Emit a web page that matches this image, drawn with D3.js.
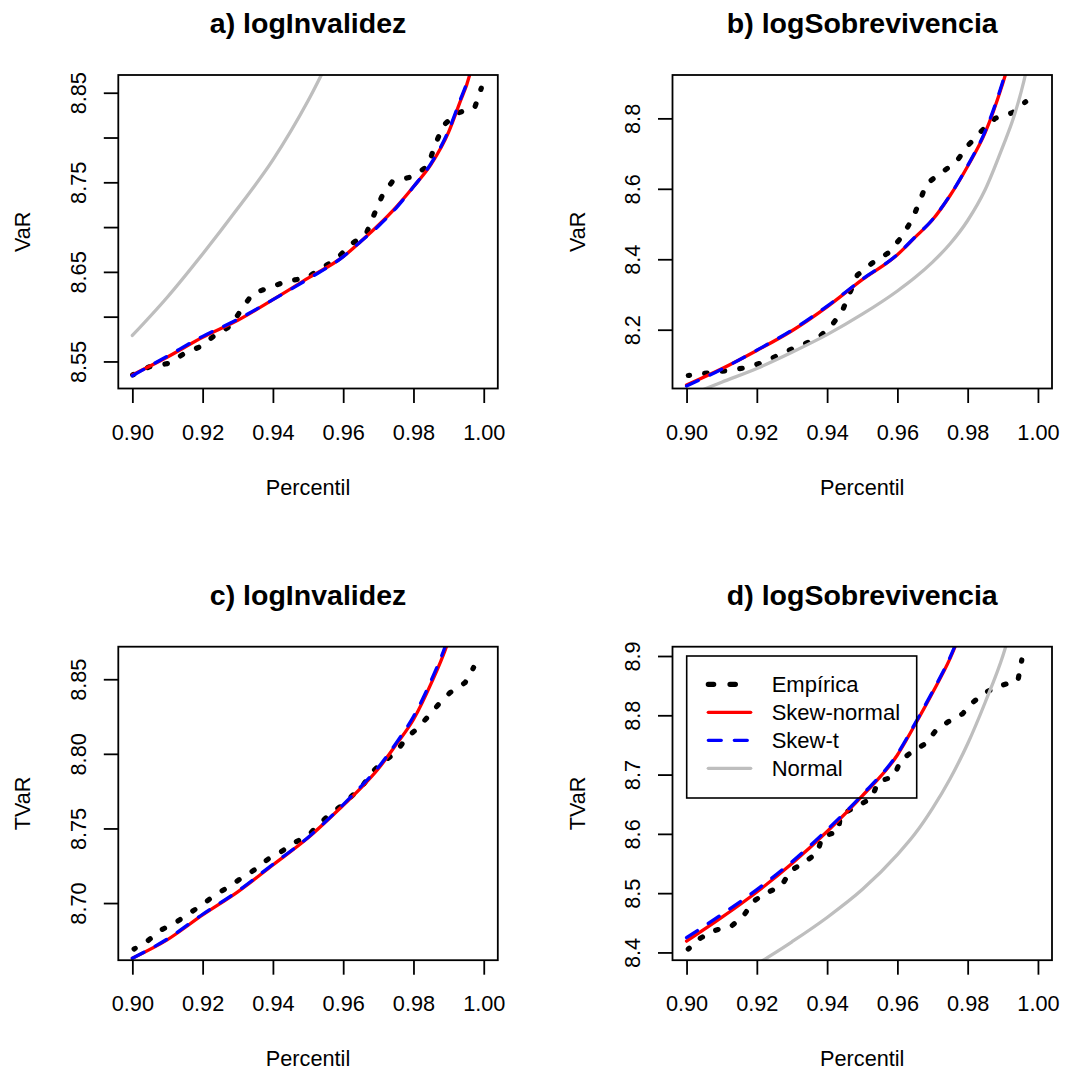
<!DOCTYPE html>
<html><head><meta charset="utf-8">
<script src="https://cdn.jsdelivr.net/npm/d3@7"></script>
<style>
body{margin:0;background:#fff}
text{font-family:"Liberation Sans",Arial,Helvetica,sans-serif;fill:#000}
</style>
</head><body>
<svg id="chart" width="1065" height="1075"></svg>
<script>
// ---------------- DATA ----------------
const titles = ["a) logInvalidez", "b) logSobrevivencia", "c) logInvalidez", "d) logSobrevivencia"];
const yTitles = ["VaR", "VaR", "TVaR", "TVaR"];
const xTitle = "Percentil";
const legendLabels = ["Empírica", "Skew-normal", "Skew-t", "Normal"];

const xTicks = [0.90, 0.92, 0.94, 0.96, 0.98, 1.00];
const xTickLabels = ["0.90", "0.92", "0.94", "0.96", "0.98", "1.00"];

const aYTicks = [8.55, 8.60, 8.65, 8.70, 8.75, 8.80, 8.85];
const aYTickLabels = ["8.55", "", "8.65", "", "8.75", "", "8.85"];
const bYTicks = [8.2, 8.4, 8.6, 8.8];
const bYTickLabels = ["8.2", "8.4", "8.6", "8.8"];
const cYTicks = [8.70, 8.75, 8.80, 8.85];
const cYTickLabels = ["8.70", "8.75", "8.80", "8.85"];
const dYTicks = [8.4, 8.5, 8.6, 8.7, 8.8, 8.9];
const dYTickLabels = ["8.4", "8.5", "8.6", "8.7", "8.8", "8.9"];

// percentiles at which the fitted curves are read
const percentiles = [0.90, 0.91, 0.92, 0.93, 0.94, 0.95, 0.96, 0.965, 0.97, 0.975, 0.98, 0.985, 0.99, 0.993, 0.996, 0.999];

// a) VaR logInvalidez
const aSkewNormal = [8.535, 8.555, 8.577, 8.596, 8.619, 8.643, 8.667, 8.684, 8.702, 8.722, 8.745, 8.770, 8.806, 8.837, 8.870, 8.930];
const aSkewT      = [8.534, 8.556, 8.578, 8.597, 8.619, 8.642, 8.667, 8.684, 8.701, 8.721, 8.745, 8.771, 8.808, 8.839, 8.873, 8.940];
const aNormal     = [8.579, 8.622, 8.670, 8.721, 8.775, 8.841, 8.920, null, null, null, null, null, null, null, null, null];
const aEmpP = [0.9001, 0.9048, 0.9105, 0.9148, 0.9196, 0.9234, 0.9281, 0.9310, 0.9343, 0.9395, 0.9442, 0.9495, 0.9538, 0.9580, 0.9623, 0.9666, 0.9689, 0.9711, 0.9740, 0.9794, 0.9841, 0.9860, 0.9884, 0.9922, 0.9974, 0.9993];
const aEmpV = [8.535, 8.544, 8.548, 8.559, 8.567, 8.579, 8.590, 8.608, 8.626, 8.633, 8.640, 8.643, 8.654, 8.664, 8.681, 8.693, 8.715, 8.735, 8.751, 8.756, 8.768, 8.790, 8.813, 8.827, 8.833, 8.855];

// b) VaR logSobrevivencia
const bSkewNormal = [8.043, 8.089, 8.141, 8.197, 8.265, 8.342, 8.413, 8.462, 8.512, 8.581, 8.664, 8.760, 8.900, 9.000, null, null];
const bSkewT      = [8.040, 8.088, 8.142, 8.199, 8.267, 8.343, 8.414, 8.463, 8.513, 8.582, 8.666, 8.764, 8.905, 9.010, null, null];
const bNormal     = [8.011, 8.051, 8.090, 8.136, 8.186, 8.244, 8.310, 8.348, 8.392, 8.444, 8.510, 8.598, 8.720, 8.800, 8.906, 9.050];
const bEmpP = [0.9005, 0.9059, 0.9116, 0.9168, 0.9220, 0.9270, 0.9318, 0.9372, 0.9410, 0.9443, 0.9486, 0.9528, 0.9574, 0.9612, 0.9642, 0.9663, 0.9682, 0.9723, 0.9766, 0.9799, 0.9837, 0.9878, 0.9927, 0.9965];
const bEmpV = [8.070, 8.077, 8.084, 8.092, 8.108, 8.132, 8.153, 8.175, 8.208, 8.253, 8.355, 8.389, 8.418, 8.463, 8.513, 8.563, 8.613, 8.645, 8.674, 8.721, 8.762, 8.800, 8.816, 8.847];

// c) TVaR logInvalidez
const cSkewNormal = [8.663, 8.6755, 8.692, 8.7075, 8.7255, 8.7437, 8.7655, 8.777, 8.790, 8.806, 8.823, 8.847, 8.876, 8.900, null, null];
const cSkewT      = [8.663, 8.676, 8.6925, 8.708, 8.726, 8.744, 8.766, 8.778, 8.791, 8.807, 8.825, 8.849, 8.879, 8.905, null, null];
const cEmpP = [0.9005, 0.9045, 0.9083, 0.9124, 0.9159, 0.9197, 0.9235, 0.9274, 0.9310, 0.9348, 0.9386, 0.9424, 0.9462, 0.9500, 0.9530, 0.9563, 0.9596, 0.9628, 0.9659, 0.9684, 0.9713, 0.9749, 0.9779, 0.9812, 0.9843, 0.9872, 0.9904, 0.9947, 0.9971];
const cEmpV = [8.6692, 8.6749, 8.6821, 8.6870, 8.6928, 8.6984, 8.7055, 8.7107, 8.7167, 8.7223, 8.7294, 8.7345, 8.7406, 8.7452, 8.7524, 8.7598, 8.7653, 8.7725, 8.7799, 8.7881, 8.7948, 8.8004, 8.8105, 8.8172, 8.8254, 8.8333, 8.8410, 8.8477, 8.8578];

// d) TVaR logSobrevivencia
const dSkewNormal = [8.419, 8.459, 8.502, 8.550, 8.604, 8.664, 8.733, 8.784, 8.838, 8.896, 8.970, null, null, null, null, null];
const dSkewT      = [8.425, 8.464, 8.506, 8.553, 8.607, 8.666, 8.735, 8.786, 8.840, 8.898, 8.972, null, null, null, null, null];
const dNormal     = [8.305, 8.342, 8.380, 8.418, 8.459, 8.506, 8.565, 8.600, 8.643, 8.693, 8.752, 8.822, 8.900, 8.960, null, null];
const dEmpP = [0.9005, 0.9040, 0.9081, 0.9130, 0.9163, 0.9189, 0.9227, 0.9270, 0.9296, 0.9331, 0.9372, 0.9386, 0.9432, 0.9438, 0.9483, 0.9527, 0.9545, 0.9590, 0.9609, 0.9642, 0.9682, 0.9709, 0.9745, 0.9785, 0.9815, 0.9851, 0.9894, 0.9943, 0.9954];
const dEmpV = [8.4057, 8.4243, 8.4371, 8.4455, 8.4624, 8.4859, 8.5001, 8.5124, 8.5377, 8.5506, 8.5675, 8.5955, 8.6039, 8.6320, 8.6460, 8.6602, 8.6882, 8.6966, 8.7236, 8.7387, 8.7529, 8.7741, 8.7893, 8.8023, 8.8220, 8.8388, 8.8500, 8.8584, 8.8933];

// ---------------- LAYOUT / STYLE ----------------
const boxW = 379.5, boxH = 313.5;
const panels = [
  {left: 118.3, top: 75,    yDomain: [8.5198, 8.8698], yTicks: aYTicks, yLabels: aYTickLabels, sn: aSkewNormal, st: aSkewT, nm: aNormal, ep: aEmpP, ev: aEmpV},
  {left: 672.5, top: 75,    yDomain: [8.0331, 8.9231], yTicks: bYTicks, yLabels: bYTickLabels, sn: bSkewNormal, st: bSkewT, nm: bNormal, ep: bEmpP, ev: bEmpV},
  {left: 118.3, top: 646.7, yDomain: [8.6617, 8.8718], yTicks: cYTicks, yLabels: cYTickLabels, sn: cSkewNormal, st: cSkewT, nm: null,    ep: cEmpP, ev: cEmpV},
  {left: 672.5, top: 646.7, yDomain: [8.3869, 8.9157], yTicks: dYTicks, yLabels: dYTickLabels, sn: dSkewNormal, st: dSkewT, nm: dNormal, ep: dEmpP, ev: dEmpV, legend: true}
];
const styles = {
  emp: {stroke: "#000000", width: 5.2, dash: null},
  empLegend: {stroke: "#000000", width: 5.2, dash: "5.4,16.3"},
  sn:  {stroke: "#FF0000", width: 3.3, dash: null},
  st:  {stroke: "#0000FF", width: 3.3, dash: "13,13"},
  nm:  {stroke: "#BEBEBE", width: 3.3, dash: null}
};
const empDot = 2.5, empPeriod = 17.5;
const tickFont = 21.7, titleFont = 28.5, tickLen = 14.5;

const svg = d3.select("#chart");
svg.append("rect").attr("width", 1065).attr("height", 1075).attr("fill", "#fff");

function styleLine(sel, s) {
  sel.attr("fill", "none").attr("stroke", s.stroke).attr("stroke-width", s.width)
     .attr("stroke-linecap", "round").attr("stroke-linejoin", "round");
  if (s.dash) sel.attr("stroke-dasharray", s.dash);
  return sel;
}

panels.forEach((P, i) => {
  const x = d3.scaleLinear().domain([0.896, 1.004]).range([P.left, P.left + boxW]);
  const y = d3.scaleLinear().domain(P.yDomain).range([P.top + boxH, P.top]);
  const g = svg.append("g");

  const clipId = "clip" + i;
  svg.append("defs").append("clipPath").attr("id", clipId)
    .append("rect").attr("x", P.left).attr("y", P.top).attr("width", boxW).attr("height", boxH);

  const lines = g.append("g").attr("clip-path", `url(#${clipId})`);
  const empLine = d3.line().x(d => x(d.p)).y(d => y(d.v));
  const fitLine = d3.line().defined(d => d.v != null).x(d => x(d.p)).y(d => y(d.v)).curve(d3.curveMonotoneX);

  const emp = P.ep.map((p, k) => ({p: p, v: P.ev[k]}));
  const ePath = styleLine(lines.append("path").attr("d", empLine(emp)), styles.emp);
  // dotted pattern fitted so that both ends of the path carry a dot
  const L = ePath.node().getTotalLength();
  const n = Math.max(1, Math.round(L / empPeriod));
  const per = L / n;
  ePath.attr("stroke-dasharray", `${empDot},${per - empDot}`).attr("stroke-dashoffset", empDot / 2);

  const sn = percentiles.map((p, k) => ({p: p, v: P.sn[k]}));
  styleLine(lines.append("path").attr("d", fitLine(sn)), styles.sn);
  const st = percentiles.map((p, k) => ({p: p, v: P.st[k]}));
  styleLine(lines.append("path").attr("d", fitLine(st)), styles.st);
  if (P.nm) {
    const nm = percentiles.map((p, k) => ({p: p, v: P.nm[k]}));
    styleLine(lines.append("path").attr("d", fitLine(nm)), styles.nm);
  }

  // box
  g.append("rect").attr("x", P.left).attr("y", P.top).attr("width", boxW).attr("height", boxH)
    .attr("fill", "none").attr("stroke", "#000").attr("stroke-width", 1.8);

  // x axis
  const xAxis = d3.axisBottom(x).tickValues(xTicks).tickSize(tickLen)
    .tickFormat((d, k) => xTickLabels[k]);
  const gx = g.append("g").attr("transform", `translate(0,${P.top + boxH})`).call(xAxis);
  gx.select(".domain").remove();
  gx.selectAll(".tick line").attr("stroke", "#000").attr("stroke-width", 1.8);
  gx.selectAll(".tick text").attr("y", 0).attr("dy", 0).attr("transform", "translate(0,51)")
    .style("font-size", tickFont + "px").style("font-family", '"Liberation Sans",Arial,sans-serif').attr("fill", "#000");

  // y axis
  const yAxis = d3.axisLeft(y).tickValues(P.yTicks).tickSize(tickLen)
    .tickFormat((d, k) => P.yLabels[k]);
  const gy = g.append("g").attr("transform", `translate(${P.left},0)`).call(yAxis);
  gy.select(".domain").remove();
  gy.selectAll(".tick line").attr("stroke", "#000").attr("stroke-width", 1.8);
  gy.selectAll(".tick text").attr("x", 0).attr("dy", 0)
    .attr("transform", "translate(-32.5,0) rotate(-90)")
    .attr("text-anchor", "middle")
    .style("font-size", tickFont + "px").style("font-family", '"Liberation Sans",Arial,sans-serif').attr("fill", "#000");

  // titles
  g.append("text").attr("x", P.left + boxW / 2).attr("y", P.top - 41.7)
    .attr("text-anchor", "middle").style("font-size", titleFont + "px").style("font-weight", "bold")
    .text(titles[i]);
  g.append("text").attr("x", P.left + boxW / 2).attr("y", P.top + boxH + 106)
    .attr("text-anchor", "middle").style("font-size", tickFont + "px").text(xTitle);
  g.append("text").attr("transform", `translate(${P.left - 88},${P.top + boxH / 2}) rotate(-90)`)
    .attr("text-anchor", "middle").style("font-size", tickFont + "px").text(yTitles[i]);

  if (P.legend) {
    const lx = 686.7, ly = 656, lw = 230, lh = 142;
    const lg = g.append("g");
    lg.append("rect").attr("x", lx).attr("y", ly).attr("width", lw).attr("height", lh)
      .attr("fill", "none").attr("stroke", "#000").attr("stroke-width", 1.6);
    const keys = ["empLegend", "sn", "st", "nm"];
    keys.forEach((k, j) => {
      const yy = ly + 28.3 + j * 28;
      styleLine(lg.append("line").attr("x1", lx + 21.6).attr("x2", lx + 64).attr("y1", yy).attr("y2", yy), styles[k]);
      lg.append("text").attr("x", lx + 85).attr("y", yy + 8).style("font-size", "22px").text(legendLabels[j]);
    });
  }
});
</script>
</body></html>
